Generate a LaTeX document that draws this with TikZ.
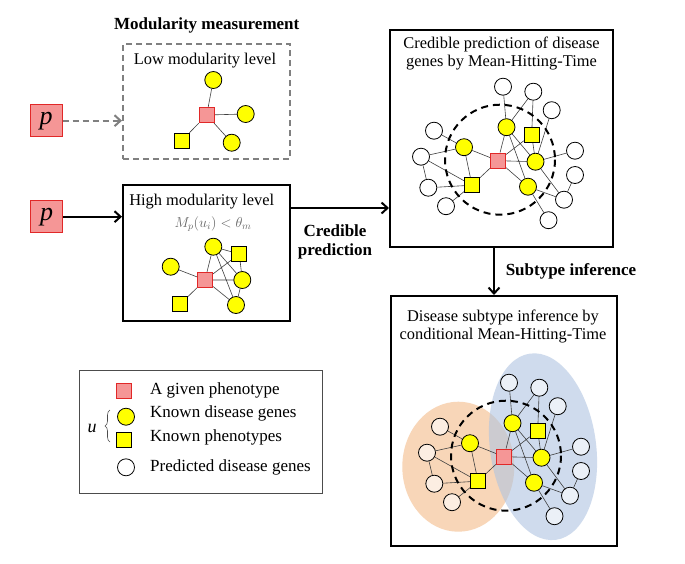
\documentclass[tikz,border=0pt]{standalone}
\usepackage{fontspec}
\setmainfont{Liberation Serif}
\usetikzlibrary{arrows.meta,calc,decorations.pathreplacing}
\pgfdeclarelayer{bgw}\pgfdeclarelayer{ell}\pgfdeclarelayer{edges}
\pgfsetlayers{bgw,ell,edges,main}
\definecolor{pinkfill}{RGB}{245,150,150}
\definecolor{redline}{RGB}{225,40,40}
\definecolor{ylw}{RGB}{255,255,0}
\definecolor{orangeell}{RGB}{248,214,184}
\definecolor{blueell}{RGB}{175,196,225}
\definecolor{dgray}{RGB}{128,128,128}
\tikzset{
  ycirc/.style={circle,draw=black,fill=ylw,minimum size=17pt,inner sep=0pt,line width=0.8pt},
  ysq/.style={rectangle,draw=black,fill=ylw,minimum size=15pt,inner sep=0pt,line width=0.8pt},
  rsq/.style={rectangle,draw=redline,fill=pinkfill,minimum size=15pt,inner sep=0pt,line width=1.2pt},
  wcirc/.style={circle,draw=black,fill=white,minimum size=17pt,inner sep=0pt,line width=0.8pt},
  lnk/.style={draw=black!75,line width=0.6pt},
  frame/.style={draw=black,line width=2pt,inner sep=0pt},
  ttl/.style={font=\fontsize{16.4}{18}\selectfont,align=center},
  bold/.style={font=\fontsize{17}{19}\selectfont\bfseries,align=center},
  lgd/.style={font=\fontsize{17}{19}\selectfont,anchor=west,inner sep=0pt},
  pbox/.style={rectangle,draw=redline,fill=pinkfill,minimum size=32pt,inner sep=0pt,line width=1pt,font=\fontsize{26}{26}\selectfont\itshape},
  arr/.style={line width=2pt,-{Straight Barb[length=6pt,width=11pt]}},
  dcirc/.style={draw=black,line width=2pt,dash pattern=on 7pt off 5pt},
}
\newcommand\mynet[1]{%
  \draw[dcirc] (2,-1) circle[radius=55];
  \node[rsq] (R) at (0,0) {};
  \node[ycirc] (Y1) at (8.5,-33.5) {};
  \node[ysq] (S1) at (33.7,-26) {};
  \node[ycirc] (Y2) at (-34,-13.5) {};
  \node[ycirc] (Y3) at (37.5,1) {};
  \node[ycirc] (Y4) at (30,26) {};
  \node[ysq] (S2) at (-26,24.5) {};
  \node[wcirc,#1] (W1) at (5,-74) {};
  \node[wcirc,#1] (W2) at (35.3,-69) {};
  \node[wcirc,#1] (W3) at (53.7,-50.5) {};
  \node[wcirc,#1] (W4) at (-64,-30) {};
  \node[wcirc,#1] (W5) at (-77,-4) {};
  \node[wcirc,#1] (W6) at (-69.7,27) {};
  \node[wcirc,#1] (W7) at (-52,45.5) {};
  \node[wcirc,#1] (W8) at (77,-10) {};
  \node[wcirc,#1] (W9) at (77,14.3) {};
  \node[wcirc,#1] (W10) at (66,39) {};
  \node[wcirc,#1] (W11) at (50.5,59.5) {};
  \begin{pgfonlayer}{edges}
  \draw[lnk] (W1)--(Y1) (W2)--(Y1) (W2)--(S1) (W3)--(Y3) (Y1)--(R) (Y1)--(Y3)
    (Y1)--(Y4) (R)--(S1) (R)--(Y3) (R)--(Y4) (S1)--(Y3) (Y3)--(W8) (Y3)--(W10)
    (W9)--(W10) (Y4)--(W10) (Y4)--(W11) (W4)--(Y2) (W5)--(Y2) (W5)--(S2)
    (W5)--(W6) (W6)--(S2) (W7)--(S2) (Y2)--(S2) (Y2)--(R) (S2)--(R);
  \end{pgfonlayer}
}
\begin{document}
\begin{tikzpicture}[x=1pt,y=-1pt]
\useasboundingbox (0,0) rectangle (685,563);
\begin{pgfonlayer}{bgw}
\fill[white] (0,0) rectangle (685,563);
\end{pgfonlayer}

% ---- low modularity
\node[bold] (mm) at (206.7,25) {Modularity measurement};
\node[draw=dgray,line width=2pt,dash pattern=on 6pt off 4pt,minimum width=167pt,minimum height=115pt,inner sep=0pt] (lowbox) at (206.5,101.5) {};
\node[ttl] (lowt) at (205,61) {Low modularity level};
\node[rsq] (LR) at (206.7,115) {};
\node[ycirc] (LY1) at (213.3,80) {};
\node[ycirc] (LY2) at (245.7,114) {};
\node[ycirc] (LY3) at (231.7,142.7) {};
\node[ysq] (LS) at (181.7,140.7) {};
\begin{pgfonlayer}{edges}
\draw[lnk] (LR)--(LY1) (LR)--(LY2) (LR)--(LY3) (LR)--(LS);
\end{pgfonlayer}
\node[pbox] (p1) at (46,120.7) {p};
\draw[arr,draw=dgray,dash pattern=on 6pt off 4pt] (p1) -- (p1 -| lowbox.west);

% ---- high modularity
\node[frame,minimum width=167pt,minimum height=136pt] (highbox) at (206.5,253) {};
\node[ttl] (hight) at (201.7,201.7) {High modularity level};
\node[font=\fontsize{14}{16}\selectfont,text=black!60] (form) at (213,224) {$M_p(u_i) < \theta_m$};
\node[ycirc] (HY1) at (213.3,246.7) {};
\node[ysq] (HS1) at (239.3,254) {};
\node[ycirc] (HY2) at (170.7,266.7) {};
\node[rsq] (HR) at (205,280) {};
\node[ycirc] (HY3) at (242.3,280) {};
\node[ysq] (HS2) at (180,304.3) {};
\node[ycirc] (HY4) at (236,305) {};
\begin{pgfonlayer}{edges}
\draw[lnk] (HY1)--(HS1) (HY1)--(HR) (HY1)--(HY3) (HY1)--(HY4) (HS1)--(HY3) (HS1)--(HR)
  (HR)--(HY3) (HR)--(HY4) (HY2)--(HR) (HS2)--(HR) (HY3)--(HY4);
\end{pgfonlayer}
\node[pbox] (p2) at (46.7,216.7) {p};
\draw[arr] (p2) -- (p2 -| highbox.west);

% ---- credible prediction box
\node[frame,minimum width=223pt,minimum height=217pt] (predbox) at (501.5,138.5) {};
\node[ttl] (predt) at (501.5,53) {Credible prediction of disease\\genes by Mean-Hitting-Time};
\begin{scope}[shift={(498,160.7)},name prefix=T-]
\mynet{}
\end{scope}
\coordinate (hout) at ($(highbox.north east)+(0,24)$);
\draw[arr] (hout) -- (hout -| predbox.west);
\node[bold] (cred) at (335,242) {Credible\\prediction};

% ---- subtype box
\node[frame,minimum width=226pt,minimum height=250pt] (subbox) at (504,421) {};
\node[ttl] (subt) at (503,326) {Disease subtype inference by\\conditional Mean-Hitting-Time};
\begin{pgfonlayer}{ell}
\fill[orangeell] (458.3,466.7) ellipse[x radius=56,y radius=65];
\fill[blueell,fill opacity=0.6] (543,446.7) ellipse[x radius=53,y radius=94,rotate=8];
\end{pgfonlayer}
\begin{scope}[shift={(504,456.7)},name prefix=B-]
\mynet{fill opacity=0.6}
\end{scope}
\coordinate (vout) at ($(predbox.south west)+(105,0)$);
\draw[arr] (vout) -- (vout |- subbox.north);
\node[bold] (subinf) at (571,271.7) {Subtype inference};

% ---- legend
\node[draw=black!70,line width=0.8pt,minimum width=243.7pt,minimum height=123.3pt,inner sep=0pt] (legend) at (200.9,431.7) {};
\node[rsq] (lg1) at (124.3,390.7) {};
\node[ycirc] (lg2) at (126,416.7) {};
\node[ysq] (lg3) at (124.3,440) {};
\node[wcirc] (lg4) at (126,467.3) {};
\node[lgd] (lt1) at (150,390.7) {A given phenotype};
\node[lgd] (lt2) at (150,413.5) {Known disease genes};
\node[lgd] (lt3) at (150,437.7) {Known phenotypes};
\node[lgd] (lt4) at (150,467.3) {Predicted disease genes};
\draw[black!70,line width=0.6pt,decorate,decoration={brace,amplitude=5pt}] (110,442) -- (110,410);
\node[font=\fontsize{18}{18}\selectfont\itshape] (u) at (92,428) {u};
\end{tikzpicture}
\end{document}
